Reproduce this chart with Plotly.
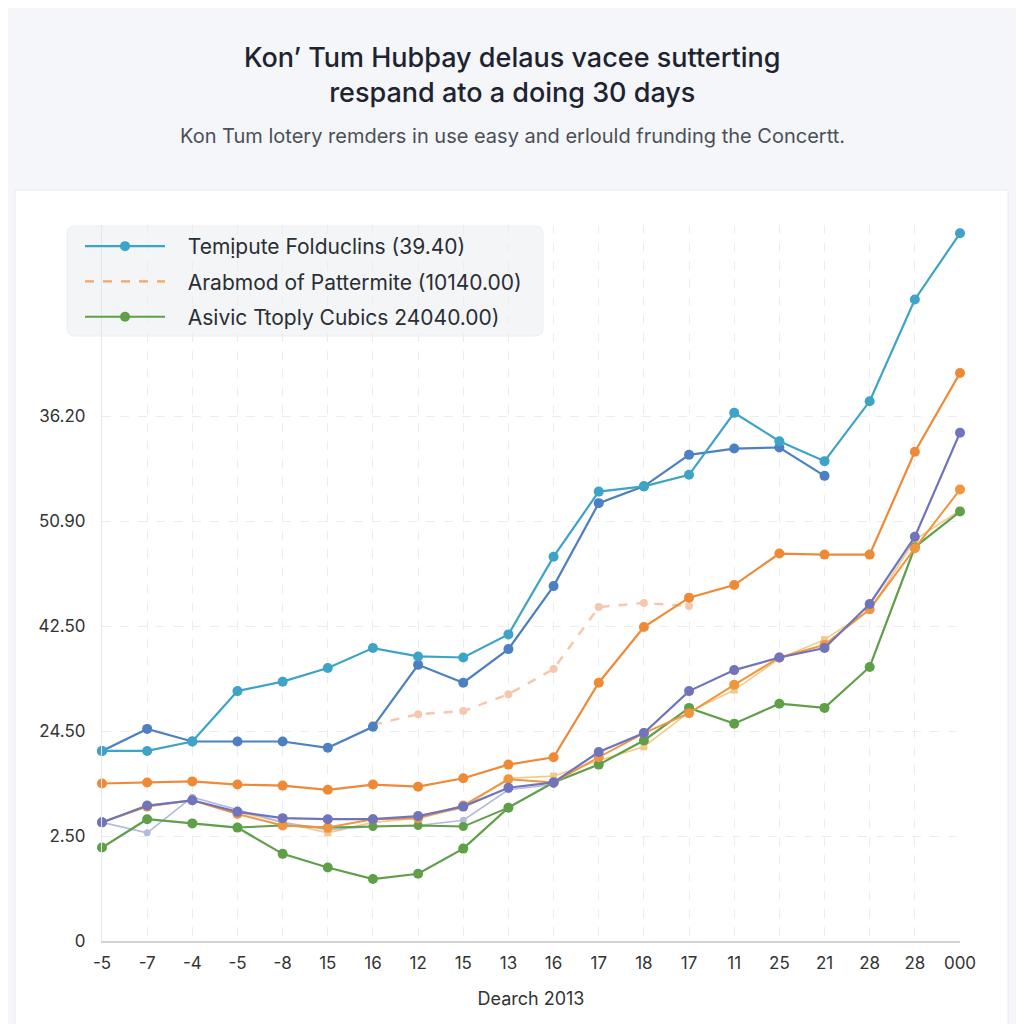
import plotly.graph_objects as go

x_idx = list(range(20))
x_labels = ["-5", "-7", "-4", "-5", "-8", "15", "16", "12", "15", "13", "16", "17",
            "18", "17", "11", "25", "21", "28", "28", "000"]

y_tickvals = [0, 1, 2, 3, 4, 5]
y_ticktext = ["0", "2.50", "24.50", "42.50", "50.90", "36.20"]

N = None
teal = [1.81, 1.81, 1.90, 2.38, 2.47, 2.60, 2.79, 2.71, 2.70, 2.92, 3.66, 4.28, 4.33, 4.44, 5.03, 4.76, 4.57, 5.14, 6.11, 6.74]
blue = [1.81, 2.02, 1.90, 1.90, 1.90, 1.84, 2.04, 2.63, 2.46, 2.78, 3.38, 4.17, 4.33, 4.63, 4.69, 4.70, 4.43, N, N, N]
orange = [1.50, 1.51, 1.52, 1.49, 1.48, 1.44, 1.49, 1.47, 1.55, 1.68, 1.75, 2.46, 2.99, 3.27, 3.39, 3.69, 3.68, 3.68, 4.66, 5.41]
peach = [N, N, N, N, N, N, 2.06, 2.16, 2.19, 2.35, 2.59, 3.18, 3.22, 3.19, N, N, N, N, N, N]
purple = [1.13, 1.29, 1.34, 1.23, 1.17, 1.16, 1.16, 1.19, 1.28, 1.46, 1.51, 1.80, 1.98, 2.38, 2.58, 2.70, 2.79, 3.21, 3.85, 4.84]
lavender = [1.13, 1.03, 1.37, 1.25, 1.13, 1.06, 1.09, 1.10, 1.15, 1.44, 1.49, N, N, N, N, N, N, N, N, N]
orange2 = [1.13, 1.28, 1.34, 1.21, 1.10, 1.08, 1.16, 1.17, 1.29, 1.54, 1.51, 1.75, 1.98, 2.17, 2.44, 2.70, 2.82, 3.16, 3.74, 4.30]
tan = [N, N, N, 1.23, 1.13, 1.03, 1.13, 1.17, 1.27, 1.55, 1.57, 1.72, 1.85, 2.18, 2.39, 2.69, 2.87, 3.15, 3.82, 4.10]
green = [0.89, 1.16, 1.12, 1.08, 0.83, 0.70, 0.59, 0.64, 0.88, 1.27, 1.51, 1.68, 1.91, 2.22, 2.07, 2.26, 2.22, 2.61, 3.75, 4.09]
green2 = [N, N, N, 1.08, 1.10, 1.08, 1.09, 1.10, 1.09, 1.27, N, N, N, N, N, N, N, N, N, N]

legend_names = ["Temịpute Folduclins (39.40)",
                "Arabmod of Pattermite (10140.00)",
                "Asivic Ttoply Cubics 24040.00)"]

PAD = "\u00a0\u00a0\u00a0"

fig = go.Figure()

def add(series, color, width=2, size=9, dash="solid", symbol="circle", name=None, show=False, rank=None):
    fig.add_trace(go.Scatter(
        x=x_idx, y=series, mode="lines+markers",
        name=(PAD + name) if name else None, showlegend=show,
        legendgroup=name, legendrank=rank if rank else 1000,
        line=dict(color=color, width=width, dash=dash),
        marker=dict(color=color, size=size, symbol=symbol),
        cliponaxis=False, connectgaps=False, hoverinfo="skip"))

add(tan, "#f3c98a", width=1.6, size=7, symbol="square")
add(lavender, "#b4bade", width=1.6, size=7)
add(green2, "#5e9f48", width=2, size=9)
add(green, "#5e9f48", width=2.2, size=10, name=legend_names[2], show=True, rank=3)
add(orange2, "#f0963f", width=2, size=10)
add(purple, "#6f74bd", width=2.2, size=10)
add(peach, "#f5c8ad", width=2.5, size=8, dash="dash")
add(orange, "#ee8a36", width=2.2, size=10)
add(blue, "#4d80c2", width=2.2, size=10)
add(teal, "#3da3c7", width=2.2, size=10, name=legend_names[0], show=True, rank=1)

# legend-only entry for the dashed orange series
fig.add_trace(go.Scatter(x=[None], y=[None], mode="lines", name=PAD + legend_names[1],
                         legendgroup=legend_names[1], legendrank=2,
                         line=dict(color="#f2a565", width=2.2, dash="dash"), showlegend=True))

# screen pixel -> paper coordinates (plot area spans 102..960 x, 225..941 y on screen)
def px2py(py):
    return (941 - py) / 716.0

def px2px(px):
    return (px - 102) / 858.0

shapes = [
    dict(type="rect", xref="paper", yref="paper", x0=px2px(15), x1=px2px(1008),
         y0=px2py(1040), y1=px2py(190), fillcolor="white",
         line=dict(color="#e7eaee", width=1), layer="below"),
    dict(type="path", xref="paper", yref="paper", layer="below",
         path=(f"M {px2px(75)},{px2py(226)} L {px2px(535)},{px2py(226)} "
               f"Q {px2px(543)},{px2py(226)} {px2px(543)},{px2py(234)} "
               f"L {px2px(543)},{px2py(328)} Q {px2px(543)},{px2py(336)} {px2px(535)},{px2py(336)} "
               f"L {px2px(75)},{px2py(336)} Q {px2px(67)},{px2py(336)} {px2px(67)},{px2py(328)} "
               f"L {px2px(67)},{px2py(234)} Q {px2px(67)},{px2py(226)} {px2px(75)},{px2py(226)} Z"),
         fillcolor="#f3f5f7", line=dict(color="#eceef1", width=1)),
]

annotations = [
    dict(text="Kon\u2019 Tum Hubþay delaus vacee sutterting<br>respand ato a doing 30 days",
         xref="paper", yref="paper", x=px2px(512), y=px2py(75), xanchor="center", yanchor="middle",
         showarrow=False, font=dict(family="Inter, Open Sans, sans-serif", size=27, color="#1e2330",
                                    weight=500),
         align="center"),
    dict(text="Kon Tum lotery remders in use easy and erlould frunding the Concertt.",
         xref="paper", yref="paper", x=px2px(512), y=px2py(136), xanchor="center", yanchor="middle",
         showarrow=False, font=dict(family="Inter, Open Sans, sans-serif", size=20, color="#4a4f58")),
]

# page body adds an 8px offset, so the figure is 1016 px and margins are reduced by 8
OFF = 8
fig.update_layout(
    width=1024 - OFF, height=1024 - OFF,
    margin=dict(l=102 - OFF, r=64, t=225 - OFF, b=83),
    paper_bgcolor="#f4f6f9", plot_bgcolor="rgba(0,0,0,0)",
    font=dict(family="Inter, Open Sans, sans-serif", color="#333333"),
    shapes=shapes, annotations=annotations,
    legend=dict(x=px2px(80), y=px2py(226), xanchor="left", yanchor="top",
                bgcolor="rgba(0,0,0,0)", font=dict(size=21, color="#2a2e35"),
                itemwidth=80, tracegroupgap=5),
    xaxis=dict(range=[0, 19], tickmode="array", tickvals=x_idx, ticktext=x_labels,
               showgrid=True, gridcolor="#ebedf0", griddash="dash", gridwidth=1,
               showline=True, linecolor="#cfd3d8", linewidth=1.5, zeroline=False,
               ticks="", tickfont=dict(size=17, color="#333"), ticklabelstandoff=6,
               title=dict(text="Dearch 2013", font=dict(size=18, color="#333"), standoff=20)),
    yaxis=dict(range=[0, 716 / 105], tickmode="array", tickvals=y_tickvals, ticktext=y_ticktext,
               showgrid=True, gridcolor="#ebedf0", griddash="dash", gridwidth=1,
               showline=True, linecolor="#e3e6ea", linewidth=1, zeroline=False,
               ticks="", tickfont=dict(size=17, color="#333"), ticklabelstandoff=12),
)

fig.write_html("out.html")
